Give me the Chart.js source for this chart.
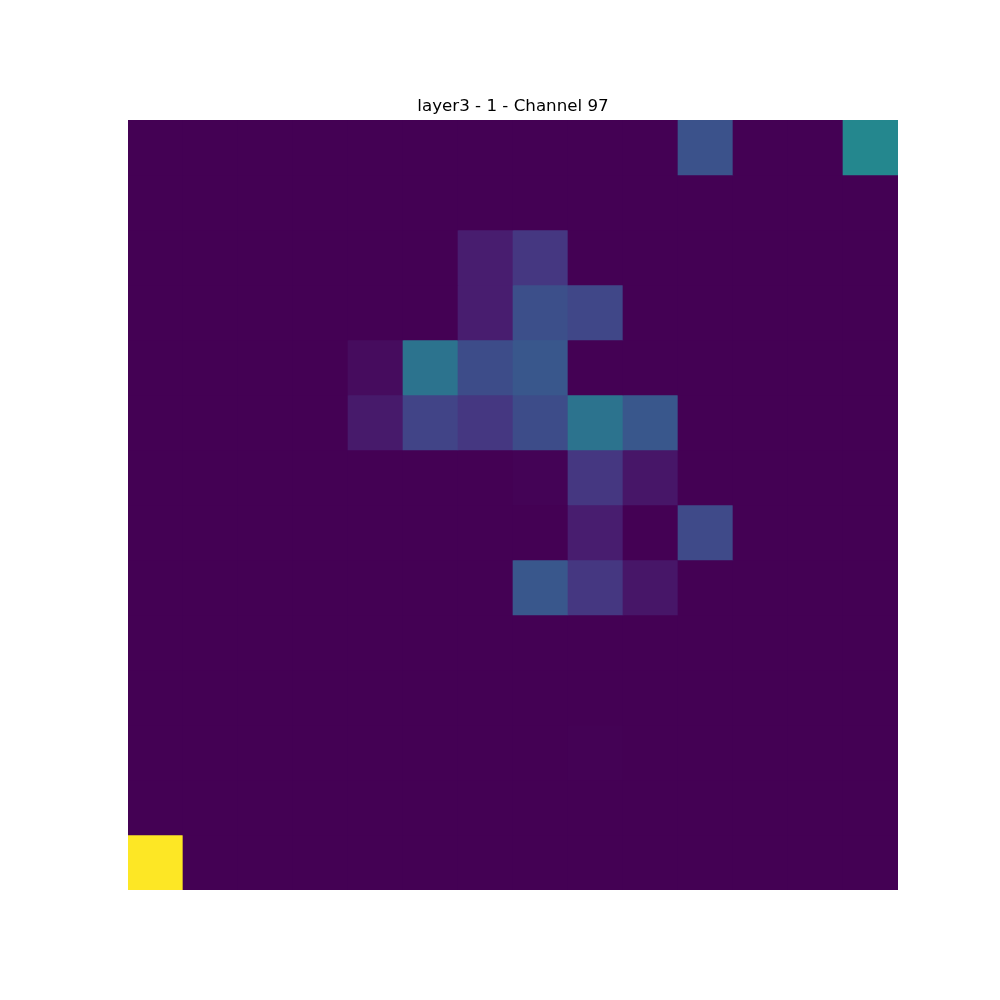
<!DOCTYPE html>
<html>
<head>
<meta charset="utf-8">
<script src="https://cdn.jsdelivr.net/npm/chart.js@4/dist/chart.umd.min.js"></script>
<style>
  html, body { margin: 0; padding: 0; background: #fff; }
  #wrap { width: 1000px; height: 1000px; }
</style>
</head>
<body>
<div id="wrap"><canvas id="c" width="1000" height="1000"></canvas></div>
<script>
// ---- data (normalised activation values, rows top to bottom) ----
const titleText = "layer3 - 1 - Channel 97";
const columns = ["0","1","2","3","4","5","6","7","8","9","10","11","12","13"];
const row0  = [0,0,0,0,0,0,0,0,0,0,0.25,0,0,0.46];
const row1  = [0,0,0,0,0,0,0,0,0,0,0,0,0,0];
const row2  = [0,0,0,0,0,0,0.08,0.16,0,0,0,0,0,0];
const row3  = [0,0,0,0,0,0,0.08,0.24,0.21,0,0,0,0,0];
const row4  = [0,0,0,0,0.03,0.38,0.23,0.27,0,0,0,0,0,0];
const row5  = [0,0,0,0,0.07,0.20,0.16,0.23,0.38,0.27,0,0,0,0];
const row6  = [0,0,0,0,0,0,0,0.006,0.16,0.06,0,0,0,0];
const row7  = [0,0,0,0,0,0,0,0,0.08,0,0.22,0,0,0];
const row8  = [0,0,0,0,0,0,0,0.27,0.16,0.06,0,0,0,0];
const row9  = [0,0,0,0,0,0,0,0,0,0,0,0,0,0];
const row10 = [0,0,0,0,0,0,0,0,0,0,0,0,0,0];
const row11 = [0,0,0,0,0,0,0,0,0.003,0,0,0,0,0];
const row12 = [0,0,0,0,0,0,0,0,0,0,0,0,0,0];
const row13 = [1,0,0,0,0,0,0,0,0,0,0,0,0,0];
const rows = [row0,row1,row2,row3,row4,row5,row6,row7,row8,row9,row10,row11,row12,row13];

// ---- viridis colormap (stops every 0.05) ----
const viridisStops = [
  [68,1,84],[71,19,101],[72,36,117],[70,52,128],[65,68,135],[59,82,139],
  [53,95,141],[47,108,142],[42,120,142],[37,132,142],[33,145,140],[30,156,137],
  [34,168,132],[47,180,124],[68,191,112],[94,201,98],[122,209,81],[155,217,60],
  [189,223,38],[223,227,24],[253,231,37]
];
function viridis(t) {
  t = Math.max(0, Math.min(1, t));
  const p = t * (viridisStops.length - 1);
  const i = Math.min(Math.floor(p), viridisStops.length - 2);
  const f = p - i;
  const a = viridisStops[i], b = viridisStops[i + 1];
  const c = a.map((v, k) => Math.round(v + (b[k] - v) * f));
  return `rgb(${c[0]},${c[1]},${c[2]})`;
}

const datasets = rows.map((r, ri) => ({
  label: "row " + ri,
  data: r.map(() => [ri, ri + 1]),
  backgroundColor: r.map(v => viridis(v)),
  borderWidth: 0,
  borderSkipped: false,
  barPercentage: 1.0,
  categoryPercentage: 1.0,
  grouped: false
}));

new Chart(document.getElementById("c"), {
  type: "bar",
  data: { labels: columns, datasets },
  options: {
    responsive: false,
    animation: false,
    events: [],
    layout: { padding: { left: 128, right: 102, top: 97, bottom: 110 } },
    scales: {
      x: { display: false, offset: true, grid: { display: false } },
      y: { display: false, min: 0, max: 14, reverse: true, grid: { display: false } }
    },
    plugins: {
      legend: { display: false },
      tooltip: { enabled: false },
      title: {
        display: true,
        text: titleText,
        color: "#000",
        font: { family: "DejaVu Sans", size: 16.7, weight: "normal" },
        padding: { top: 0, bottom: 3 },
        lineHeight: 1.2
      }
    }
  }
});
</script>
</body>
</html>
